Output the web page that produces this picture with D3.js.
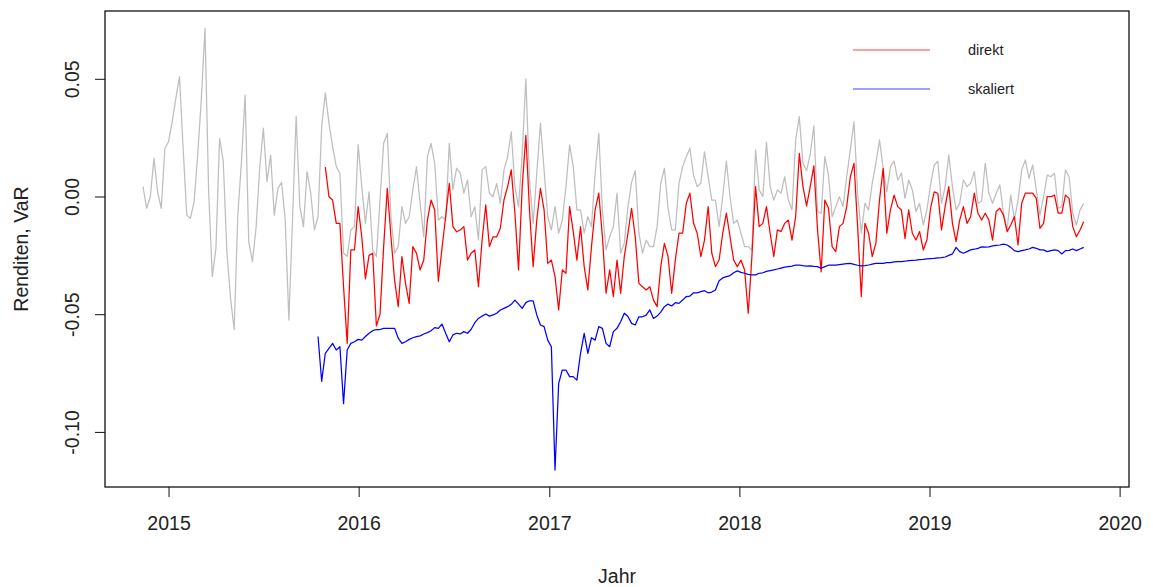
<!DOCTYPE html>
<html><head><meta charset="utf-8">
<script src="https://cdn.jsdelivr.net/npm/d3@7"></script>
<style>
body{margin:0;background:#fff}
svg{display:block}
text{font-family:"Liberation Sans",Arial,Helvetica,sans-serif;fill:#222}
</style>
</head><body>
<svg id="c" width="1153" height="587"></svg>
<script>
// ---- data (weekly samples) ----
const grauStart = "2014-11-13";
const direktStart = "2015-10-29";
const skaliertStart = "2015-10-15";
const schrittTage = 7;

const grauWerte = [
0.0042,-0.0050,-0.0001,0.0162,0.0020,-0.0050,0.0205,0.0233,0.0318,0.0417,
0.0509,0.0205,-0.0079,-0.0093,-0.0022,0.0176,0.0417,0.0714,0.0020,-0.0340,
-0.0220,0.0247,0.0150,-0.0234,-0.0432,-0.0565,-0.0079,0.0148,0.0431,-0.0192,
-0.0277,-0.0135,0.0120,0.0290,0.0063,0.0176,-0.0079,0.0035,0.0060,-0.0100,
-0.0525,-0.0100,0.0340,-0.0040,-0.0128,0.0106,0.0014,-0.0142,-0.0086,0.0297,
0.0440,0.0311,0.0212,0.0127,0.0099,-0.0241,-0.0255,-0.0142,-0.0128,0.0220,
0.0042,-0.0114,0.0020,-0.0227,-0.0255,-0.0015,0.0226,0.0268,-0.0086,-0.0241,
-0.0213,-0.0043,-0.0114,-0.0086,0.0028,0.0127,-0.0029,-0.0171,0.0169,0.0226,
0.0141,-0.0100,-0.0086,-0.0100,0.0226,0.0028,0.0120,0.0099,0.0014,0.0070,
-0.0086,-0.0043,-0.0185,0.0113,0.0127,0.0014,-0.0001,0.0056,-0.0029,0.0113,
0.0169,0.0275,0.0042,-0.0043,0.0180,0.0500,0.0070,-0.0114,0.0099,0.0311,
0.0113,-0.0086,-0.0142,-0.0043,-0.0156,-0.0100,0.0042,0.0219,0.0127,-0.0057,
-0.0057,-0.0156,-0.0086,-0.0128,0.0099,0.0268,-0.0057,-0.0227,-0.0171,-0.0128,
0.0014,-0.0241,-0.0199,-0.0043,0.0060,0.0110,-0.0156,-0.0241,-0.0185,-0.0213,
-0.0213,-0.0128,0.0056,0.0120,-0.0050,-0.0142,-0.0142,0.0056,0.0127,0.0169,
0.0205,0.0091,0.0042,0.0056,0.0190,0.0084,-0.0015,-0.0015,-0.0128,-0.0001,
0.0150,-0.0001,-0.0114,-0.0100,-0.0156,-0.0213,-0.0213,-0.0227,0.0198,0.0028,
-0.0001,0.0230,0.0042,-0.0015,0.0028,0.0014,0.0084,-0.0015,-0.0057,0.0240,
0.0339,0.0141,0.0110,0.0180,0.0300,-0.0064,-0.0071,0.0169,0.0091,-0.0086,
-0.0043,-0.0001,-0.0043,0.0084,0.0198,0.0318,0.0014,-0.0156,-0.0029,-0.0057,
0.0056,0.0141,0.0240,0.0120,0.0020,0.0127,0.0150,0.0070,0.0099,-0.0008,
0.0070,0.0028,-0.0064,-0.0029,-0.0121,-0.0057,0.0049,0.0134,0.0150,-0.0029,
0.0042,0.0176,0.0042,-0.0057,-0.0029,0.0070,0.0042,0.0056,0.0106,-0.0029,
-0.0020,0.0141,0.0014,-0.0029,0.0014,0.0049,-0.0071,-0.0142,0.0006,-0.0100,
-0.0015,0.0113,0.0155,0.0077,0.0134,0.0028,-0.0079,-0.0001,0.0091,0.0084,
0.0099,-0.0050,-0.0043,0.0113,0.0084,-0.0071,-0.0121,-0.0057,-0.0029
];

const direktWerte = [
0.0125,-0.0001,-0.0015,-0.0114,-0.0114,-0.0383,-0.0624,-0.0227,-0.0227,-0.0043,
-0.0171,-0.0350,-0.0250,-0.0241,-0.0550,-0.0500,-0.0213,0.0035,-0.0171,-0.0355,
-0.0468,-0.0255,-0.0369,-0.0454,-0.0213,-0.0241,-0.0312,-0.0270,-0.0100,-0.0015,
-0.0057,-0.0360,-0.0220,-0.0086,0.0056,-0.0128,-0.0150,-0.0142,-0.0128,-0.0270,
-0.0241,-0.0227,-0.0383,-0.0185,-0.0036,-0.0213,-0.0171,-0.0171,-0.0135,-0.0015,
0.0042,0.0113,-0.0071,-0.0312,0.0042,0.0260,-0.0057,-0.0298,-0.0100,0.0035,
-0.0057,-0.0284,-0.0270,-0.0340,-0.0482,-0.0312,-0.0326,-0.0043,-0.0149,-0.0270,
-0.0128,-0.0298,-0.0397,-0.0213,-0.0057,0.0014,-0.0171,-0.0411,-0.0312,-0.0425,
-0.0270,-0.0411,-0.0255,-0.0156,-0.0050,-0.0171,-0.0369,-0.0383,-0.0397,-0.0383,
-0.0440,-0.0468,-0.0298,-0.0199,-0.0255,-0.0411,-0.0270,-0.0156,-0.0156,-0.0029,
0.0014,-0.0114,-0.0156,-0.0255,-0.0185,-0.0043,-0.0241,-0.0298,-0.0270,-0.0156,
-0.0071,-0.0171,-0.0270,-0.0298,-0.0270,-0.0312,-0.0496,-0.0255,0.0042,-0.0128,
-0.0114,-0.0043,-0.0156,-0.0255,-0.0142,-0.0149,-0.0114,-0.0100,-0.0185,-0.0086,
0.0183,0.0042,-0.0040,0.0042,0.0130,-0.0142,-0.0320,-0.0015,-0.0050,-0.0213,
-0.0234,-0.0128,-0.0114,-0.0043,0.0084,0.0141,-0.0128,-0.0425,-0.0114,-0.0156,
-0.0255,-0.0199,-0.0015,0.0120,-0.0156,-0.0057,0.0006,-0.0043,-0.0057,-0.0178,
-0.0057,-0.0156,-0.0185,-0.0149,-0.0227,-0.0185,-0.0050,0.0020,0.0014,-0.0142,
-0.0043,0.0042,-0.0114,-0.0192,-0.0100,-0.0043,-0.0114,-0.0086,0.0014,-0.0071,
-0.0100,-0.0071,-0.0100,-0.0185,-0.0064,-0.0050,-0.0079,-0.0149,-0.0121,-0.0086,
-0.0206,-0.0029,0.0014,0.0014,0.0014,-0.0008,-0.0135,-0.0114,-0.0001,-0.0001,
0.0006,-0.0071,-0.0071,0.0006,-0.0008,-0.0128,-0.0171,-0.0142,-0.0107
];

const skaliertWerte = [
-0.0595,-0.0785,-0.0666,-0.0645,-0.0624,-0.0652,-0.0638,-0.0880,-0.0652,-0.0624,
-0.0617,-0.0607,-0.0610,-0.0595,-0.0581,-0.0570,-0.0565,-0.0565,-0.0560,-0.0560,
-0.0560,-0.0560,-0.0602,-0.0624,-0.0617,-0.0607,-0.0600,-0.0595,-0.0592,-0.0584,
-0.0578,-0.0570,-0.0557,-0.0560,-0.0542,-0.0581,-0.0617,-0.0588,-0.0581,-0.0584,
-0.0574,-0.0581,-0.0564,-0.0536,-0.0518,-0.0508,-0.0499,-0.0508,-0.0503,-0.0496,
-0.0482,-0.0475,-0.0468,-0.0458,-0.0440,-0.0457,-0.0475,-0.0451,-0.0443,-0.0443,
-0.0503,-0.0546,-0.0553,-0.0610,-0.0638,-0.1162,-0.0794,-0.0737,-0.0737,-0.0765,
-0.0765,-0.0780,-0.0666,-0.0581,-0.0666,-0.0600,-0.0610,-0.0553,-0.0560,-0.0624,
-0.0638,-0.0574,-0.0560,-0.0532,-0.0496,-0.0510,-0.0539,-0.0546,-0.0511,-0.0511,
-0.0504,-0.0482,-0.0518,-0.0508,-0.0491,-0.0468,-0.0457,-0.0465,-0.0451,-0.0454,
-0.0440,-0.0425,-0.0423,-0.0409,-0.0409,-0.0404,-0.0400,-0.0409,-0.0406,-0.0397,
-0.0358,-0.0346,-0.0340,-0.0336,-0.0324,-0.0316,-0.0322,-0.0326,-0.0331,-0.0333,
-0.0333,-0.0326,-0.0324,-0.0318,-0.0315,-0.0312,-0.0308,-0.0304,-0.0300,-0.0298,
-0.0296,-0.0291,-0.0291,-0.0294,-0.0296,-0.0295,-0.0297,-0.0298,-0.0305,-0.0298,
-0.0292,-0.0291,-0.0291,-0.0289,-0.0287,-0.0285,-0.0284,-0.0288,-0.0292,-0.0295,
-0.0294,-0.0291,-0.0287,-0.0284,-0.0284,-0.0284,-0.0281,-0.0281,-0.0278,-0.0277,
-0.0277,-0.0275,-0.0272,-0.0271,-0.0270,-0.0268,-0.0267,-0.0265,-0.0264,-0.0263,
-0.0261,-0.0260,-0.0257,-0.0250,-0.0244,-0.0216,-0.0234,-0.0241,-0.0234,-0.0227,
-0.0224,-0.0220,-0.0214,-0.0215,-0.0214,-0.0210,-0.0208,-0.0206,-0.0202,-0.0206,
-0.0216,-0.0230,-0.0234,-0.0230,-0.0227,-0.0223,-0.0216,-0.0220,-0.0227,-0.0227,
-0.0234,-0.0230,-0.0227,-0.0230,-0.0244,-0.0230,-0.0229,-0.0223,-0.0230,-0.0223,
-0.0216
];

const jahrTicks = [2015, 2016, 2017, 2018, 2019, 2020];
const yTicks = [0.05, 0.00, -0.05, -0.10];
const yTickLabels = ["0.05", "0.00", "-0.05", "-0.10"];
const xLimits = ["2014-09-01", "2020-01-19"];
const yLimits = [-0.1234, 0.0788];
const legendeNamen = ["direkt", "skaliert"];
const xTitel = "Jahr";
const yTitel = "Renditen, VaR";

// ---- layout ----
const W = 1153, H = 587;
const plot = {left: 105, right: 1129, top: 11, bottom: 487};
const farben = {grau: "#bebebe", direkt: "#ff0000", skaliert: "#0000ff"};

const parse = d3.utcParse("%Y-%m-%d");
function serie(start, werte) {
  const t0 = parse(start);
  return werte.map((v, i) => ({t: d3.utcDay.offset(t0, i * schrittTage), v}));
}

const x = d3.scaleUtc().domain(xLimits.map(parse)).range([plot.left, plot.right]);
const y = d3.scaleLinear().domain(yLimits).range([plot.bottom, plot.top]);

const svg = d3.select("#c");
svg.append("rect").attr("width", W).attr("height", H).attr("fill", "#fff");

const line = d3.line().x(d => x(d.t)).y(d => y(d.v));
const g = svg.append("g");
[["grau", grauStart, grauWerte], ["direkt", direktStart, direktWerte], ["skaliert", skaliertStart, skaliertWerte]]
  .forEach(([k, s, w]) => {
    g.append("path").datum(serie(s, w)).attr("d", line)
      .attr("fill", "none").attr("stroke", farben[k]).attr("stroke-width", 1.25)
      .attr("stroke-linejoin", "round");
  });

// box
svg.append("rect").attr("x", plot.left).attr("y", plot.top)
  .attr("width", plot.right - plot.left).attr("height", plot.bottom - plot.top)
  .attr("fill", "none").attr("stroke", "#111").attr("stroke-width", 1.3);

// x axis
const xAxis = d3.axisBottom(x)
  .tickValues(jahrTicks.map(j => new Date(Date.UTC(j, 0, 1))))
  .tickFormat(d => d.getUTCFullYear())
  .tickSize(10).tickPadding(19);
const xg = svg.append("g").attr("transform", `translate(0,${plot.bottom})`).call(xAxis);
xg.select(".domain").remove();
xg.selectAll(".tick line").attr("stroke", "#111");
xg.selectAll(".tick text").attr("font-size", 19.5).attr("fill", "#222")
  .attr("font-family", '"Liberation Sans",Arial,sans-serif');

// y axis
const yAxis = d3.axisLeft(y).tickValues(yTicks).tickFormat((d, i) => yTickLabels[i]).tickSize(10);
const yg = svg.append("g").attr("transform", `translate(${plot.left},0)`).call(yAxis);
yg.select(".domain").remove();
yg.selectAll(".tick line").attr("stroke", "#111");
yg.selectAll(".tick text")
  .attr("font-size", 19.5).attr("fill", "#222").attr("font-family", '"Liberation Sans",Arial,sans-serif')
  .attr("text-anchor", "middle").attr("x", null).attr("dy", null)
  .attr("transform", "translate(-26,0) rotate(-90)");

// titles
svg.append("text").attr("x", (plot.left + plot.right) / 2).attr("y", 583)
  .attr("text-anchor", "middle").attr("font-size", 19.5).text(xTitel);
svg.append("text").attr("transform", `translate(28,${(plot.top + plot.bottom) / 2}) rotate(-90)`)
  .attr("text-anchor", "middle").attr("font-size", 19.5).text(yTitel);

// legend
const leg = svg.append("g");
legendeNamen.forEach((n, i) => {
  const yy = 50 + i * 39;
  const k = i === 0 ? "direkt" : "skaliert";
  leg.append("line").attr("x1", 853).attr("x2", 930).attr("y1", yy).attr("y2", yy)
    .attr("stroke", farben[k]).attr("stroke-width", 1.2).attr("opacity", 0.75);
  leg.append("text").attr("x", 968).attr("y", yy + 5).attr("font-size", 14.5).text(n);
});
</script>
</body></html>
